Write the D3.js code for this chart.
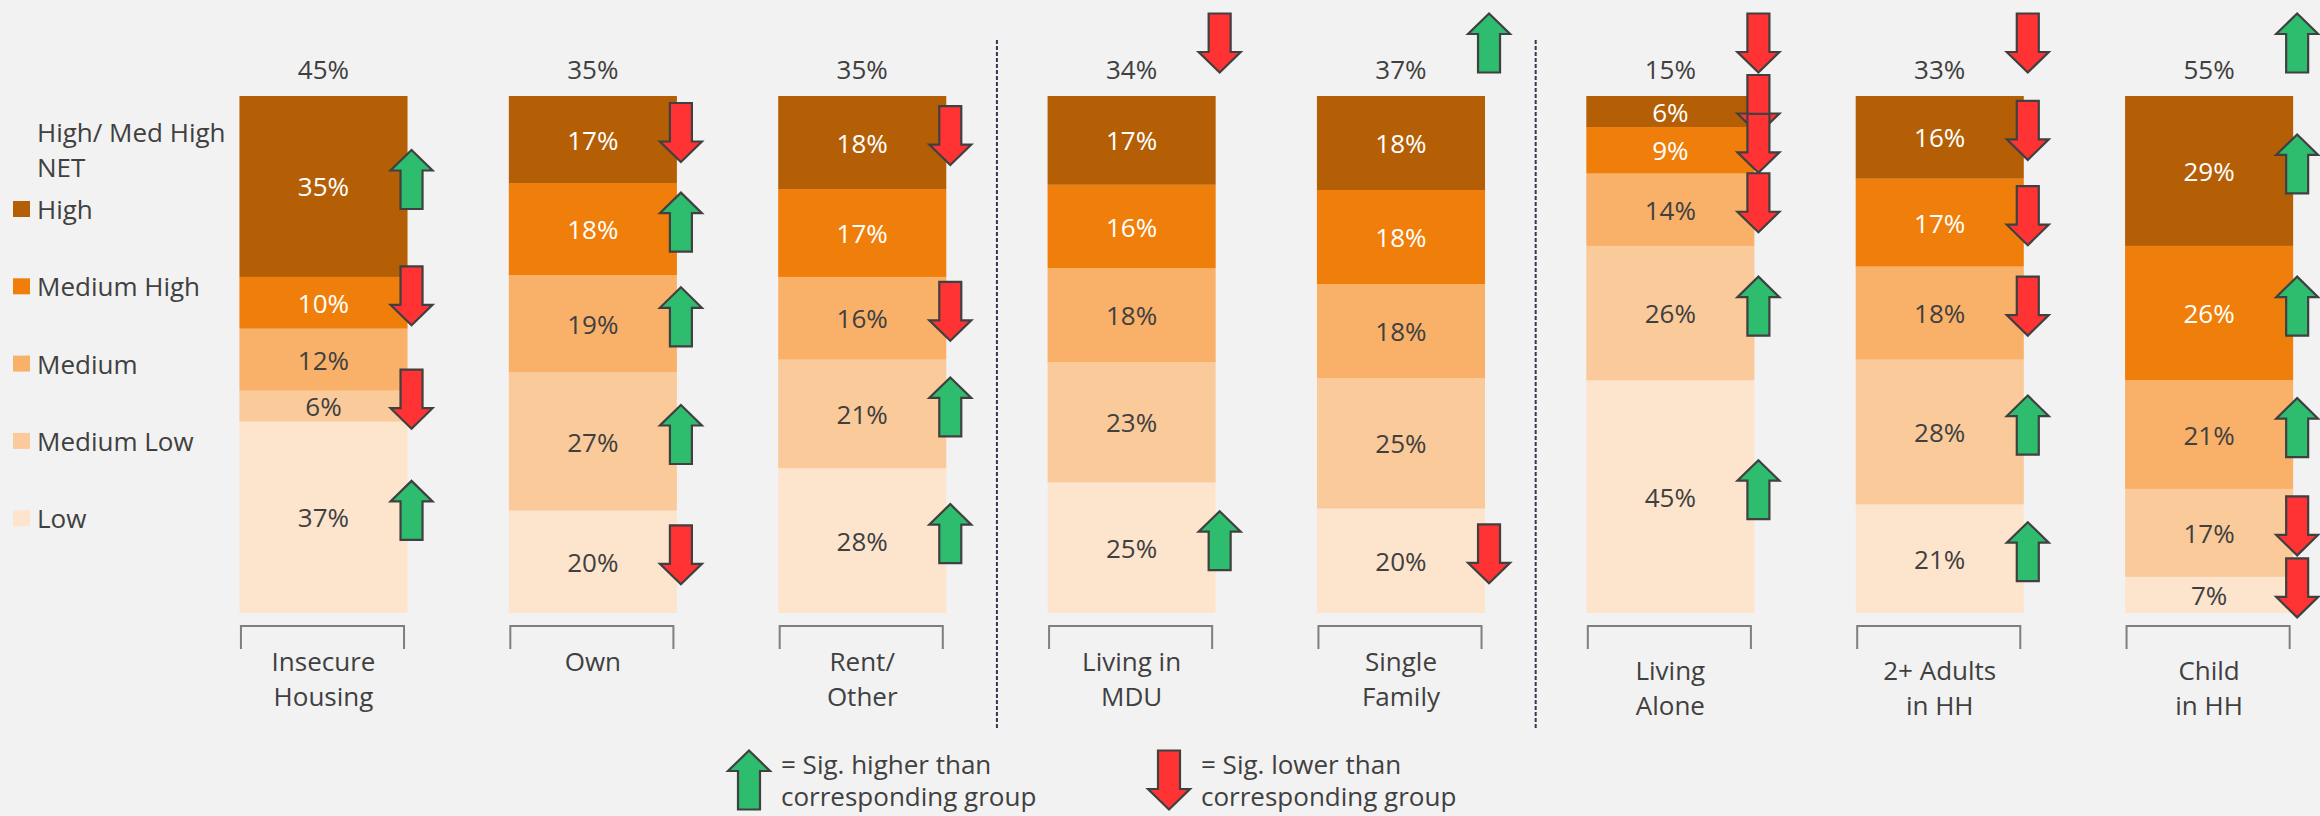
<!DOCTYPE html>
<html>
<head>
<meta charset="utf-8">
<script src="https://cdn.jsdelivr.net/npm/d3@7"></script>
<style>
  html, body { margin: 0; padding: 0; background: #F2F2F2; }
  svg { display: block; font-family: "Open Sans", "Noto Sans", sans-serif; }
</style>
</head>
<body>
<svg id="chart" width="2320" height="816"></svg>
<script>
// ---- data -------------------------------------------------------------
const categories = ["Insecure\nHousing", "Own", "Rent/\nOther", "Living in\nMDU",
                    "Single\nFamily", "Living\nAlone", "2+ Adults\nin HH", "Child\nin HH"];
const levels = ["Low", "Medium Low", "Medium", "Medium High", "High"];

const highVals    = [35, 17, 18, 17, 18,  6, 16, 29];
const medHighVals = [10, 18, 17, 16, 18,  9, 17, 26];
const mediumVals  = [12, 19, 16, 18, 18, 14, 18, 21];
const medLowVals  = [ 6, 27, 21, 23, 25, 26, 28, 17];
const lowVals     = [37, 20, 28, 25, 20, 45, 21,  7];
const netVals     = [45, 35, 35, 34, 37, 15, 33, 55];   // High / Med High NET

// significance vs. corresponding group: 1 = higher, -1 = lower, 0 = n.s.
const sigNet     = [ 0,  0,  0, -1,  1, -1, -1,  1];
const sigHigh    = [ 1, -1, -1,  0,  0, -1, -1,  1];
const sigMedHigh = [-1,  1,  0,  0,  0, -1, -1,  1];
const sigMedium  = [ 0,  1, -1,  0,  0, -1, -1,  1];
const sigMedLow  = [-1,  1,  1,  0,  0,  1,  1, -1];
const sigLow     = [ 1, -1,  1,  1, -1,  1,  1, -1];

const legendTitle = ["High/ Med High", "NET"];
const sigLegend = [
  { dir: 1,  lines: ["= Sig. higher than", "corresponding group"] },
  { dir: -1, lines: ["= Sig. lower than", "corresponding group"] }
];

// ---- styling ----------------------------------------------------------
const colors = {
  "High": "#B45F06",
  "Medium High": "#EF7F0A",
  "Medium": "#F9B169",
  "Medium Low": "#FBCA9A",
  "Low": "#FDE5CD"
};
const lightText = new Set(["High", "Medium High"]);
const textColor = "#404040";
const fontSize = 26;

// ---- build rows -------------------------------------------------------
const valuesByLevel = {
  "Low": lowVals, "Medium Low": medLowVals, "Medium": mediumVals,
  "Medium High": medHighVals, "High": highVals
};
const sigByLevel = {
  "Low": sigLow, "Medium Low": sigMedLow, "Medium": sigMedium,
  "Medium High": sigMedHigh, "High": sigHigh
};
const rows = categories.map((c, i) => {
  const r = { cat: c, net: netVals[i], sigNet: sigNet[i] };
  levels.forEach(l => { r[l] = valuesByLevel[l][i]; });
  return r;
});

const series = d3.stack().keys(levels).offset(d3.stackOffsetExpand)(rows);

// ---- scales -----------------------------------------------------------
const x = d3.scaleBand().domain(categories)
  .range([188.8, 2343.8]).paddingInner(0.376).paddingOuter(0.188);
const y = d3.scaleLinear().domain([0, 1]).range([613, 96]);
const bw = x.bandwidth();

const svg = d3.select("#chart");
svg.append("rect").attr("width", 2320).attr("height", 816).attr("fill", "#F2F2F2");

// ---- bars -------------------------------------------------------------
const layer = svg.append("g").selectAll("g").data(series).join("g")
  .attr("fill", s => colors[s.key]);

layer.selectAll("rect").data(s => s)
  .join("rect")
  .attr("x", d => x(d.data.cat))
  .attr("width", bw)
  .attr("y", d => y(d[1]))
  .attr("height", d => y(d[0]) - y(d[1]));

// segment value labels
const labels = svg.append("g").attr("font-size", fontSize).attr("text-anchor", "middle");
series.forEach(s => {
  labels.selectAll(null).data(s).join("text")
    .attr("x", d => x(d.data.cat) + bw / 2)
    .attr("y", d => y((d[0] + d[1]) / 2))
    .attr("dominant-baseline", "central")
    .attr("fill", lightText.has(s.key) ? "#FFFFFF" : textColor)
    .text(d => d.data[s.key] + "%");
});

// NET labels above bars
svg.append("g").selectAll("text").data(rows).join("text")
  .attr("x", d => x(d.cat) + bw / 2)
  .attr("y", 69)
  .attr("text-anchor", "middle")
  .attr("dominant-baseline", "central")
  .attr("font-size", fontSize)
  .attr("fill", textColor)
  .text(d => d.net + "%");

// ---- category brackets and labels ------------------------------------
const axis = svg.append("g");
axis.selectAll("path").data(categories).join("path")
  .attr("d", c => {
    const x0 = x(c) + 1.5, x1 = x(c) + bw - 3.5;
    return `M${x0},649V626H${x1}V649`;
  })
  .attr("fill", "none").attr("stroke", "#7F7F7F").attr("stroke-width", 2);

axis.selectAll("text").data(categories).join("text")
  .attr("x", c => x(c) + bw / 2)
  .attr("text-anchor", "middle")
  .attr("font-size", fontSize)
  .attr("fill", textColor)
  .each(function (c, i) {
    const top = i < 5 ? 661 : 670;
    d3.select(this).selectAll("tspan").data(c.split("\n")).join("tspan")
      .attr("x", x(c) + bw / 2)
      .attr("y", (t, k) => top + k * 35)
      .attr("dominant-baseline", "central")
      .text(t => t);
  });

// dashed separators between groups of breaks
[2, 4].forEach(i => {
  const xs = (x(categories[i]) + bw + x(categories[i + 1])) / 2;
  svg.append("line")
    .attr("x1", xs).attr("x2", xs).attr("y1", 40).attr("y2", 728)
    .attr("stroke", "#3B3553").attr("stroke-width", 2)
    .attr("stroke-dasharray", "4,2");
});

// ---- significance arrows ---------------------------------------------
function arrowPath(dir) {
  const h = 29.5, hb = 9, hw = 21, sw = 11;
  const s = dir > 0 ? 1 : -1;
  return `M0,${-h * s}L${hw},${-hb * s}L${sw},${-hb * s}L${sw},${h * s}` +
         `L${-sw},${h * s}L${-sw},${-hb * s}L${-hw},${-hb * s}Z`;
}
function drawArrow(g, cx, cy, dir) {
  g.append("path")
    .attr("transform", `translate(${cx},${cy})`)
    .attr("d", arrowPath(dir))
    .attr("fill", dir > 0 ? "#2EBD6E" : "#FF3333")
    .attr("stroke", "#404040")
    .attr("stroke-width", 2.2)
    .attr("stroke-linejoin", "miter");
}

const arrows = svg.append("g");
rows.forEach((r, i) => {
  const ax = x(r.cat) + bw + 4;
  if (r.sigNet) drawArrow(arrows, ax, 43, r.sigNet);
  // draw from the top segment downward so lower arrows sit on top
  levels.slice().reverse().forEach(l => {
    const dir = sigByLevel[l][i];
    if (!dir) return;
    const seg = series.find(s => s.key === l)[i];
    drawArrow(arrows, ax, y((seg[0] + seg[1]) / 2) - 7, dir);
  });
});

// ---- level legend -----------------------------------------------------
const leg = svg.append("g").attr("font-size", fontSize).attr("fill", textColor);
leg.selectAll("text.title").data(legendTitle).join("text")
  .attr("class", "title")
  .attr("x", 37).attr("y", (d, k) => 132 + k * 35)
  .attr("dominant-baseline", "central")
  .text(d => d);

const legItems = levels.slice().reverse();
const legRow = leg.selectAll("g.item").data(legItems).join("g")
  .attr("class", "item")
  .attr("transform", (d, k) => `translate(0,${209 + k * 77.3})`);
legRow.append("rect")
  .attr("x", 13).attr("y", -8).attr("width", 17).attr("height", 16)
  .attr("fill", d => colors[d]);
legRow.append("text")
  .attr("x", 37).attr("dominant-baseline", "central")
  .text(d => d);

// ---- significance legend ---------------------------------------------
const sigLeg = svg.append("g");
const sigX = [749, 1169];
sigLegend.forEach((item, k) => {
  drawArrow(sigLeg, sigX[k], 780, item.dir);
  const t = sigLeg.append("text")
    .attr("font-size", fontSize).attr("fill", textColor);
  t.selectAll("tspan").data(item.lines).join("tspan")
    .attr("x", sigX[k] + 32)
    .attr("y", (d, j) => 764 + j * 32)
    .attr("dominant-baseline", "central")
    .text(d => d);
});
</script>
</body>
</html>
